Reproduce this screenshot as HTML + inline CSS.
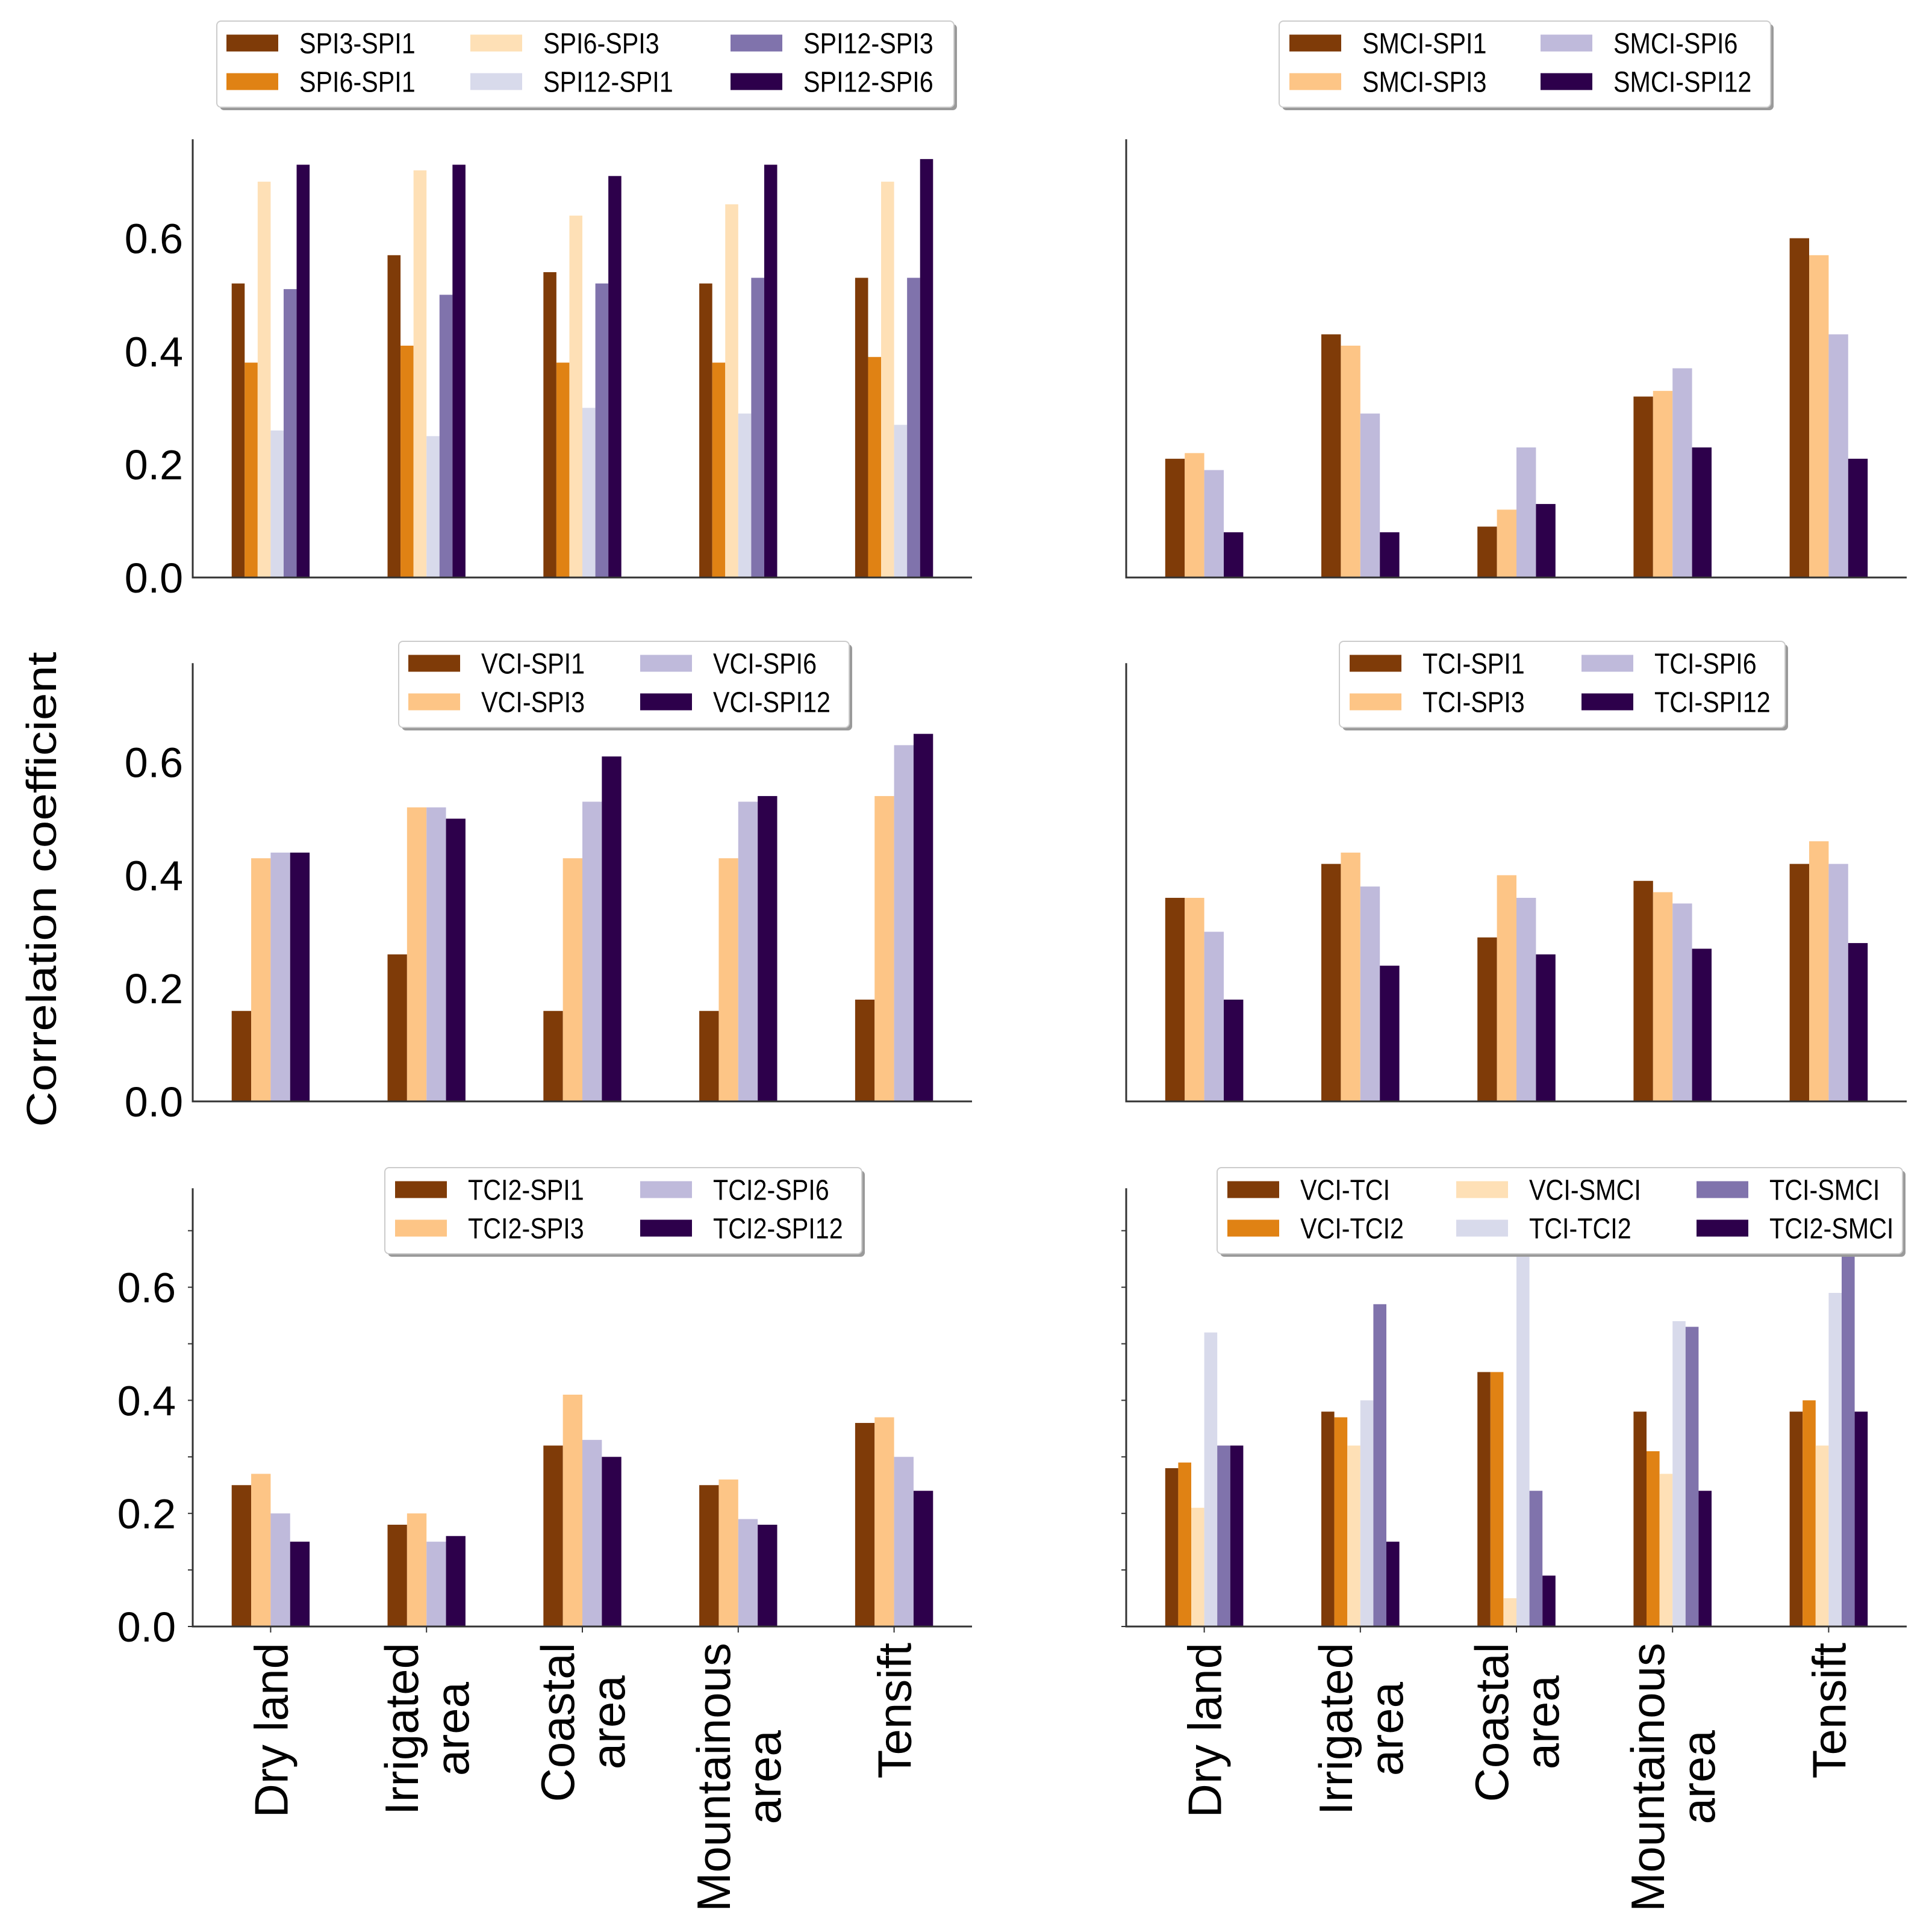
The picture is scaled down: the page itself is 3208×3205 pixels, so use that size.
<!DOCTYPE html>
<html><head><meta charset="utf-8"><style>html,body{margin:0;padding:0;background:#fff}svg{display:block}</style></head>
<body>
<svg id="fig" xmlns="http://www.w3.org/2000/svg" width="3208" height="3205" viewBox="0 0 3208 3205" font-family="Liberation Sans, DejaVu Sans, sans-serif"></svg>
<script>
const categories = ["Dry land","Irrigated\narea","Coastal\narea","Mountainous\narea","Tensift"];
const s1Names = ["SPI3-SPI1","SPI6-SPI1","SPI6-SPI3","SPI12-SPI1","SPI12-SPI3","SPI12-SPI6"];
const s1Values = [[0.52,0.38,0.70,0.26,0.51,0.73],[0.57,0.41,0.72,0.25,0.50,0.73],[0.54,0.38,0.64,0.30,0.52,0.71],[0.52,0.38,0.66,0.29,0.53,0.73],[0.53,0.39,0.70,0.27,0.53,0.74]];
const s2Names = ["SMCI-SPI1","SMCI-SPI3","SMCI-SPI6","SMCI-SPI12"];
const s2Values = [[0.21,0.22,0.19,0.08],[0.43,0.41,0.29,0.08],[0.09,0.12,0.23,0.13],[0.32,0.33,0.37,0.23],[0.60,0.57,0.43,0.21]];
const s3Names = ["VCI-SPI1","VCI-SPI3","VCI-SPI6","VCI-SPI12"];
const s3Values = [[0.16,0.43,0.44,0.44],[0.26,0.52,0.52,0.50],[0.16,0.43,0.53,0.61],[0.16,0.43,0.53,0.54],[0.18,0.54,0.63,0.65]];
const s4Names = ["TCI-SPI1","TCI-SPI3","TCI-SPI6","TCI-SPI12"];
const s4Values = [[0.36,0.36,0.30,0.18],[0.42,0.44,0.38,0.24],[0.29,0.40,0.36,0.26],[0.39,0.37,0.35,0.27],[0.42,0.46,0.42,0.28]];
const s5Names = ["TCI2-SPI1","TCI2-SPI3","TCI2-SPI6","TCI2-SPI12"];
const s5Values = [[0.25,0.27,0.20,0.15],[0.18,0.20,0.15,0.16],[0.32,0.41,0.33,0.30],[0.25,0.26,0.19,0.18],[0.36,0.37,0.30,0.24]];
const s6Names = ["VCI-TCI","VCI-TCI2","VCI-SMCI","TCI-TCI2","TCI-SMCI","TCI2-SMCI"];
const s6Values = [[0.28,0.29,0.21,0.52,0.32,0.32],[0.38,0.37,0.32,0.40,0.57,0.15],[0.45,0.45,0.05,0.66,0.24,0.09],[0.38,0.31,0.27,0.54,0.53,0.24],[0.38,0.40,0.32,0.59,0.66,0.38]];
const yTicks = [0.0,0.2,0.4,0.6];
const yTickLabels = ["0.0","0.2","0.4","0.6"];

const col6 = ["#7f3b08","#e08214","#fee0b6","#d8daeb","#8073ac","#2d004b"];
const col4 = ["#7f3b08","#fdc586","#bfbadb","#2d004b"];
const NS = "http://www.w3.org/2000/svg";
const svg = document.getElementById('fig');
function mk(tag, attrs, parent){const e=document.createElementNS(NS,tag);for(const k in attrs)e.setAttribute(k,attrs[k]);(parent||svg).appendChild(e);return e;}

const YMAX = 0.775;
const PXPER = 939;
const LX0 = 320, LX1 = 1614, RX0 = 1870, RX1 = 3166;
const B1 = 959, B2 = 1829, B3 = 2701;
const panels = [
 {x0:LX0,x1:LX1,yb:B1,names:s1Names,vals:s1Values,cols:col6,ylab:true,xlab:false,minor:false,leg:{x:360,y:35,w:1224,cx:[376,781,1213]},id:'spi-spi'},
 {x0:RX0,x1:RX1,yb:B1,names:s2Names,vals:s2Values,cols:col4,ylab:false,xlab:false,minor:false,leg:{x:2124,y:35,w:816,cx:[2141,2558]},id:'smci-spi'},
 {x0:LX0,x1:LX1,yb:B2,names:s3Names,vals:s3Values,cols:col4,ylab:true,xlab:false,minor:false,leg:{x:662,y:1065,w:748,cx:[678,1063]},id:'vci-spi'},
 {x0:RX0,x1:RX1,yb:B2,names:s4Names,vals:s4Values,cols:col4,ylab:false,xlab:false,minor:false,leg:{x:2224,y:1065,w:740,cx:[2241,2626]},id:'tci-spi'},
 {x0:LX0,x1:LX1,yb:B3,names:s5Names,vals:s5Values,cols:col4,ylab:true,xlab:true,minor:true,leg:{x:639,y:1939,w:792,cx:[656,1063]},id:'tci2-spi'},
 {x0:RX0,x1:RX1,yb:B3,names:s6Names,vals:s6Values,cols:col6,ylab:false,xlab:true,minor:true,leg:{x:2021,y:1939,w:1138,cx:[2038,2418,2817]},id:'index-pairs'}
];

panels.forEach(p=>{
  const g = mk('g',{});
  
  
  const xs = v => p.x0 + (v+0.5)*(p.x1-p.x0)/5;
  const ys = v => p.yb - v*PXPER;
  const yTop = ys(YMAX);
  const n = p.names.length, bw = 0.5/n;
  p.vals.forEach((grp,gi)=>{
    grp.forEach((v,si)=>{
      const l = xs(gi - 0.25 + si*bw), r = xs(gi - 0.25 + (si+1)*bw);
      const r0 = mk('rect',{x:l,y:ys(v),width:r-l,height:ys(0)-ys(v),fill:p.cols[si]},g);
      
      
    });
  });
  const ax = mk('line',{x1:p.x0,y1:yTop,x2:p.x0,y2:p.yb+1,stroke:'#333','stroke-width':3},g);
   
  const bx = mk('line',{x1:p.x0-1.5,y1:p.yb,x2:p.x1,y2:p.yb,stroke:'#333','stroke-width':3},g);
   
  if(p.minor){
    for(let k=0;k<=7;k++){ mk('line',{x1:p.x0-8,y1:ys(k/10),x2:p.x0,y2:ys(k/10),stroke:'#333','stroke-width':2},g); }
    for(let i=0;i<5;i++){ mk('line',{x1:xs(i),y1:p.yb,x2:xs(i),y2:p.yb+10,stroke:'#333','stroke-width':2},g); }
  }
  if(p.ylab){
    yTicks.forEach((t,i)=>{
      const tx = mk('text',{x:p.minor?p.x0-28:p.x0-16,y:ys(t)+25,'font-size':70,'text-anchor':'end',fill:'#000'},g);
      tx.textContent = yTickLabels[i];
       
    });
  }
  if(p.xlab){
    categories.forEach((c,i)=>{
      const lines = c.split('\n');
      const nL = lines.length, lh = 84;
      const els = lines.map((ln,li)=>{
        const cx = xs(i) + (li-(nL-1)/2)*lh + 28;
        const tx = mk('text',{x:0,y:0,'font-size':78,'text-anchor':'middle',fill:'#000'},g);
        tx.textContent = ln;
         
        return [tx,cx];
      });
      let maxL = 0; els.forEach(([t])=>{maxL=Math.max(maxL,t.getComputedTextLength());});
      els.forEach(([t,cx])=>{t.setAttribute('transform',`translate(${cx},${2728+maxL/2}) rotate(-90)`);});
    });
  }
  const L = p.leg;
  const lg = mk('g',{},g);
  
  
  mk('rect',{x:L.x+5,y:L.y+5,width:L.w,height:143,rx:7,fill:'#9a9a9a'},lg);
  mk('rect',{x:L.x,y:L.y,width:L.w,height:143,rx:7,fill:'#fff',stroke:'#ccc','stroke-width':2},lg);
  p.names.forEach((nm,si)=>{
    const c = Math.floor(si/2), r = si%2;
    const py = L.y + 36.5 + r*64;
    const pr = mk('rect',{x:L.cx[c],y:py-14,width:86,height:28,fill:p.cols[si]},lg);
     
    const tx = mk('text',{x:L.cx[c]+121,y:py+17,'font-size':48,fill:'#000'},lg);
    tx.textContent = nm;
     
    const w = tx.getComputedTextLength();
    tx.setAttribute('textLength', (w*0.86).toFixed(1));
    tx.setAttribute('lengthAdjust','spacingAndGlyphs');
  });
});
const yt = mk('text',{x:0,y:0,'font-size':70,'text-anchor':'middle',fill:'#000',transform:'translate(93,1477) rotate(-90)',textLength:789,lengthAdjust:'spacingAndGlyphs'});
yt.textContent = 'Correlation coefficient';


</script>
</body></html>
